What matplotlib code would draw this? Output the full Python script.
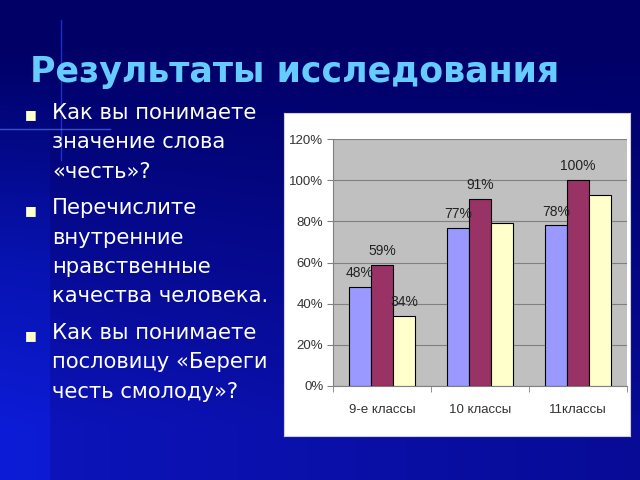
import numpy as np
import matplotlib
matplotlib.use("Agg")
import matplotlib.pyplot as plt

categories = ["9-е классы", "10 классы", "11классы"]
series_blue = [48, 77, 78]
series_red = [59, 91, 100]
series_yellow = [34, 79, 93]
labels_blue = ["48%", "77%", "78%"]
labels_red = ["59%", "91%", "100%"]
labels_yellow = ["34%", None, None]
yticks = [0, 20, 40, 60, 80, 100, 120]
title = "Результаты исследования"
bullets = [
    ["Как вы понимаете", "значение слова", "«честь»?"],
    ["Перечислите", "внутренние", "нравственные", "качества человека."],
    ["Как вы понимаете", "пословицу «Береги", "честь смолоду»?"],
]

fig = plt.figure(figsize=(6.4, 4.8), dpi=100)

# background gradient: dark navy at top/right, brighter blue toward lower-left
bg = fig.add_axes([0, 0, 1, 1])
H, W = 480, 640
yy, xx = np.mgrid[0:H, 0:W]
f = np.clip((yy - 45) / 380.0, 0, 1) * (0.55 + 0.45 * (1 - xx / W))
f = np.clip(f, 0, 1)
dark = np.array([0.0, 0.0, 0.40])
bright = np.array([0.05, 0.08, 0.74])
img = dark[None, None, :] * (1 - f[..., None]) + bright[None, None, :] * f[..., None]
strip = (xx < 50) & (yy > 60)
boost = np.clip((yy - 60) / 200.0, 0, 1) * 0.10
img[..., 2] = np.where(strip, np.clip(img[..., 2] + boost, 0, 1), img[..., 2])
img[..., 1] = np.where(strip, np.clip(img[..., 1] + boost * 0.3, 0, 1), img[..., 1])
bg.imshow(img, aspect="auto", extent=[0, W, H, 0])
# sparkle
bg.plot([61, 61], [20, 160], color="#3050ff", lw=1.0, alpha=0.6)
bg.plot([0, 110], [129, 129], color="#6080ff", lw=1.0, alpha=0.6)
bg.set_xlim(0, W)
bg.set_ylim(H, 0)
bg.axis("off")

fig.text(30 / W, 1 - 72 / H, title, color="#66ccff", fontsize=25, fontweight="bold",
         family="DejaVu Sans", va="center", ha="left")

y = 113
for group in bullets:
    fig.text(31 / W, 1 - (y + 2) / H, "■", color="#ffffcc", fontsize=9, va="center", ha="center")
    for line in group:
        fig.text(52 / W, 1 - y / H, line, color="white", fontsize=15.2,
                 family="DejaVu Sans", va="center", ha="left")
        y += 29.3
    y += 7.5

# white panel
panel = fig.add_axes([284 / W, 1 - 436 / H, (630 - 284) / W, (436 - 113) / H])
panel.set_facecolor("white")
panel.set_xticks([]); panel.set_yticks([])
for s in panel.spines.values():
    s.set_color("#d0d0d0")

ax = fig.add_axes([333 / W, 1 - 386 / H, (627 - 333) / W, (386 - 139) / H])
ax.set_facecolor("#c0c0c0")
x = np.arange(len(categories))
bw = 0.224
font = ["Liberation Sans Narrow", "Liberation Sans", "DejaVu Sans"]
for off, vals, col, labs in [(-bw, series_blue, "#9999ff", labels_blue),
                             (0, series_red, "#993366", labels_red),
                             (bw, series_yellow, "#ffffcc", labels_yellow)]:
    ax.bar(x + off, vals, width=bw, color=col, edgecolor="black", linewidth=0.8, zorder=3)
    for xi, v, lab in zip(x + off, vals, labs):
        if lab:
            ax.annotate(lab, (xi, v), xytext=(0, 5), textcoords="offset points",
                        ha="center", va="bottom", fontsize=10, color="#222222",
                        family=font, zorder=4)
ax.set_xlim(-0.5, 2.5)
ax.set_ylim(0, 120)
ax.set_yticks(yticks)
ax.set_yticklabels([f"{t}%" for t in yticks], family=font, fontsize=9.5, color="#333333")
ax.yaxis.grid(True, color="#808080", lw=0.8, zorder=0)
ax.set_axisbelow(True)
ax.set_xticks(x)
ax.set_xticklabels(categories, family=font, fontsize=9.5, color="#333333")
ax.tick_params(axis="x", length=0, pad=13)
ax.set_xticks([-0.5, 0.5, 1.5, 2.5], minor=True)
ax.tick_params(axis="x", which="minor", length=4, color="#808080")
ax.tick_params(axis="y", length=4, color="#808080", pad=3)
for side in ["top", "right"]:
    ax.spines[side].set_visible(False)
ax.spines["left"].set_color("#808080")
ax.spines["bottom"].set_color("#808080")

fig.savefig("out.png", dpi=100)
